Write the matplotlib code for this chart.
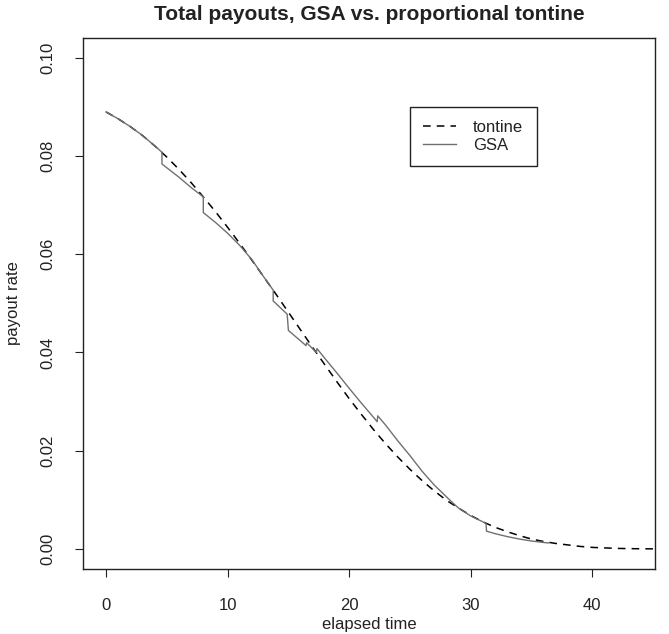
import numpy as np
import matplotlib.pyplot as plt

plt.rcParams['font.family'] = ['Liberation Sans', 'DejaVu Sans']

# tontine payout rate, read at whole years
t_tontine = list(range(0, 46))
tontine = [0.0890, 0.0876, 0.0860, 0.0842, 0.0821, 0.0798, 0.0773, 0.0746, 0.0717, 0.0687,
           0.0655, 0.0622, 0.0588, 0.0553, 0.0518, 0.0482, 0.0446, 0.0410, 0.0375, 0.0340,
           0.0306, 0.0274, 0.0243, 0.0214, 0.0187, 0.0162, 0.0139, 0.0118, 0.0099, 0.0083,
           0.0068, 0.0055, 0.0044, 0.0035, 0.0027, 0.0020, 0.0015, 0.0011, 0.0008, 0.0005,
           0.0003, 0.0002, 0.0001, 0.00005, 0.00002, 0.0]

# GSA payout rate (jumps appear as repeated times)
t_gsa = [0, 1, 2, 3, 4, 4.6, 4.6, 6, 7, 8.0, 8.0, 9, 10, 11, 12, 13, 13.75, 13.75,
         14.9, 15.0, 16.45, 16.5, 17.3, 17.35, 18, 19, 20, 21, 22, 22.3, 22.35,
         23, 24, 25, 26, 27, 28, 28.6, 29, 30, 31.25, 31.3, 32, 33, 34, 35, 36, 36.4]
gsa = [0.0890, 0.0876, 0.0860, 0.0842, 0.0821, 0.0808, 0.0784, 0.0757, 0.0736, 0.0717,
       0.0685, 0.0665, 0.0643, 0.0618, 0.0589, 0.0553, 0.0527, 0.0505,
       0.0478, 0.0445, 0.0414, 0.0420, 0.0400, 0.0408, 0.0388, 0.0358, 0.0327, 0.0297,
       0.0268, 0.0259, 0.0271, 0.0252, 0.0220, 0.0190, 0.0158, 0.0130, 0.0106, 0.0092,
       0.0083, 0.0067, 0.0052, 0.0036, 0.0031, 0.0025, 0.0020, 0.0016, 0.0013, 0.0012]

xticks = [0, 10, 20, 30, 40]
yticks = [0.00, 0.02, 0.04, 0.06, 0.08, 0.10]

fig = plt.figure(figsize=(6.69, 6.34), dpi=100)
ax = fig.add_axes([0.1245, 0.1033, 0.979 - 0.1245, 0.9396 - 0.1033])

ax.plot(t_tontine, tontine, color='black', lw=1.1, dashes=(5, 4), label='tontine')
ax.plot(t_gsa, gsa, color='#707070', lw=1.0, label='GSA')

ax.set_xlim(-1.87, 45.15)
ax.set_ylim(-0.004, 0.104)
ax.set_xticks(xticks)
ax.set_yticks(yticks)
ax.set_xticklabels([str(v) for v in xticks])
ax.set_yticklabels(['%.2f' % v for v in yticks], rotation=90, va='center')
ax.tick_params(direction='out', length=6, width=0.8, labelsize=12, colors='#222222')
ax.tick_params(axis='x', pad=15)
ax.tick_params(axis='y', pad=14)
for s in ax.spines.values():
    s.set_color('#222222')
    s.set_linewidth(1.0)

ax.set_xlabel('elapsed time', fontsize=12, color='#222222', labelpad=3)
ax.set_ylabel('payout rate', fontsize=12, color='#222222', labelpad=14)
ax.set_title('Total payouts, GSA vs. proportional tontine', fontsize=15,
             fontweight='bold', color='#222222', pad=13)

leg = ax.legend(loc='upper left', bbox_to_anchor=(0.571, 0.871), borderaxespad=0,
                fancybox=False, framealpha=1, edgecolor='#222222', fontsize=12,
                handlelength=2.0, borderpad=0.8, labelspacing=0.15, handletextpad=1.0)
leg.get_frame().set_linewidth(1.0)
for txt in leg.get_texts():
    txt.set_color('#222222')

fig.savefig('out.png', dpi=100)
